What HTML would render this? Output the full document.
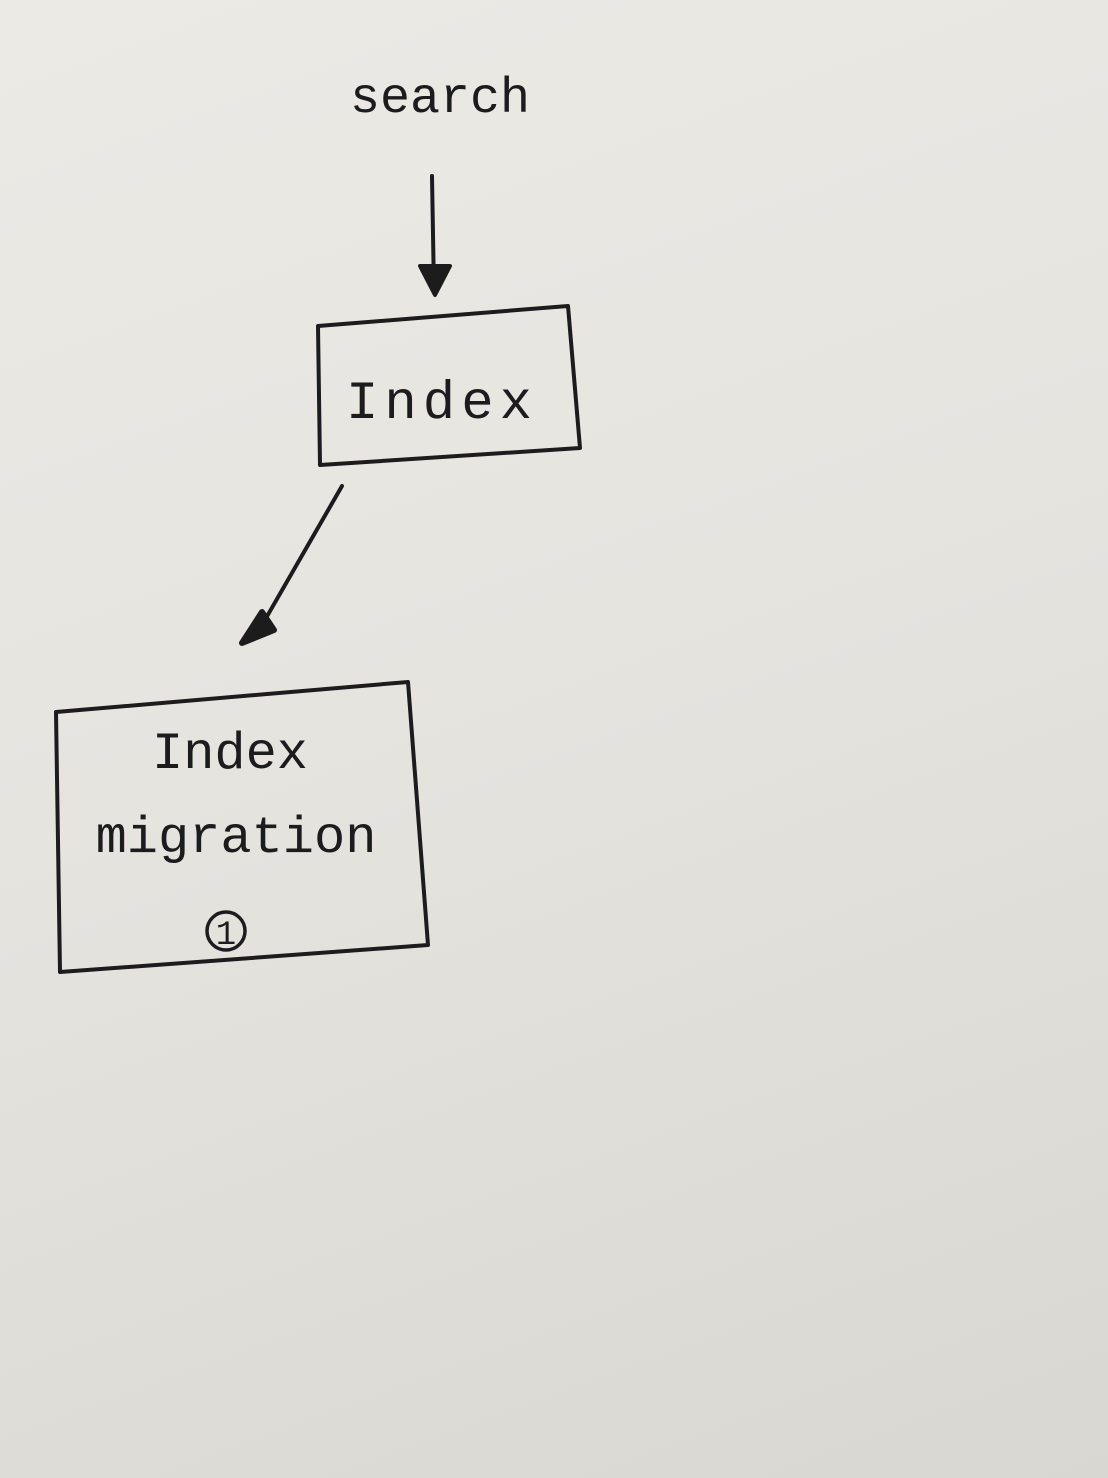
<!DOCTYPE html>
<html><head><meta charset="utf-8"><style>
html,body{margin:0;padding:0;width:1108px;height:1478px;overflow:hidden}
body{background:linear-gradient(160deg,#eceae5 0%,#e6e4df 45%,#d9d7d1 100%)}
svg{position:absolute;left:0;top:0}
text{font-family:"Liberation Mono",monospace;fill:#1c1c1c}
</style></head><body>
<svg width="1108" height="1478" viewBox="0 0 1108 1478">
<g stroke="#1c1c1c" stroke-width="4" fill="none" stroke-linecap="round" stroke-linejoin="round">
<line x1="432" y1="176" x2="434" y2="292"/>
<path d="M420 266 L435 295 L450 266 Z" fill="#1c1c1c"/>
<path d="M318 326 L568 306 L580 448 L320 465 Z"/>
<line x1="342" y1="486" x2="258" y2="632"/>
<path d="M242 643 L262 612 L274 630 Z" fill="#1c1c1c" stroke-width="6"/>
<path d="M56 712 L408 682 L428 945 L60 972 Z"/>
<circle cx="226" cy="931" r="19" stroke-width="3.5"/>
</g>
<text x="440" y="112" font-size="50" text-anchor="middle">search</text>
<text x="442" y="418" font-size="54" letter-spacing="6" text-anchor="middle">Index</text>
<text x="230" y="768" font-size="52" text-anchor="middle">Index</text>
<text x="236" y="852" font-size="52" text-anchor="middle">migration</text>
<text x="226" y="944" font-size="34" text-anchor="middle">1</text>
</svg>
</body></html>
